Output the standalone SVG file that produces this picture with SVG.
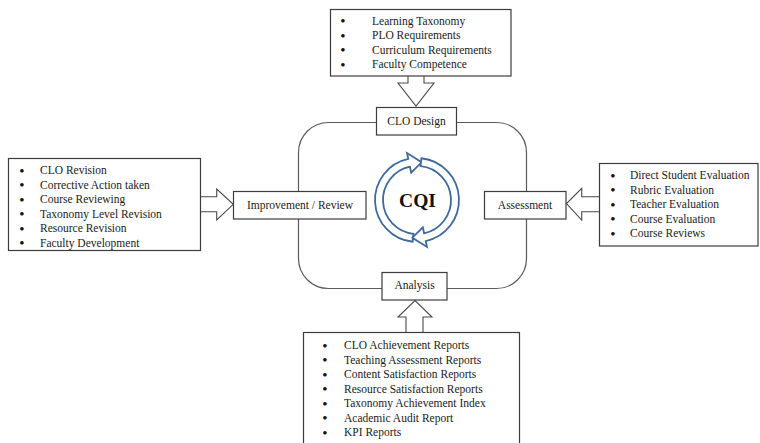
<svg xmlns="http://www.w3.org/2000/svg" width="760" height="443" viewBox="0 0 760 443">
<style>
  .box{fill:#fff;stroke:#3c3c3c;stroke-width:1.2}
  .arr{fill:#fff;stroke:#4a4a4a;stroke-width:1.1;stroke-linejoin:miter}
  .loop{fill:none;stroke:#5a5a5a;stroke-width:1.2}
  .t{font-family:"Liberation Serif","Times New Roman",serif;font-size:11.5px;fill:#1a1a1a}
  .c{text-anchor:middle}
  .b{font-family:"Liberation Serif","Times New Roman",serif;font-size:15px;fill:#111;text-anchor:middle}
  .cqi{fill:#fff;stroke:#3e6a9a;stroke-width:1.8;stroke-linejoin:miter}
  .cqit{font-family:"Liberation Serif","Times New Roman",serif;font-size:19.5px;font-weight:bold;fill:#111;text-anchor:middle}
</style>
<rect width="760" height="443" fill="#fff"/>

<g id="connectors">
  <rect class="loop" x="298.5" y="122.5" width="228" height="166" rx="30" ry="30"/>
  <path class="arr" d="M408,76 L408,83 L398,83 L416,106 L434,83 L424,83 L424,76"/>
  <path class="arr" d="M200.5,196.7 L216.7,196.7 L216.7,189 L233.3,204.3 L216.7,220 L216.7,211.7 L200.5,211.7"/>
  <path class="arr" d="M599.3,196.7 L581.7,196.7 L581.7,188.3 L566.5,203.5 L581.7,220 L581.7,211.7 L599.3,211.7"/>
  <path class="arr" d="M406,332 L406,317 L398,317 L415,300.5 L432,317 L423,317 L423,332"/>
</g>

<g id="cqi">
  <path class="cqi" d="M412.61,241.77 A42,42 0 0 1 408.27,158.92 L407.02,153.05 L421.63,162.28 L411.18,172.61 L409.93,166.74 A34,34 0 0 0 413.45,233.81 Z"/>
  <path class="cqi" d="M421.39,158.23 A42,42 0 0 1 425.73,241.08 L426.98,246.95 L412.37,237.72 L422.82,227.39 L424.07,233.26 A34,34 0 0 0 420.55,166.19 Z"/>
  <text class="cqit" x="417.5" y="207">CQI</text>
</g>

<g id="clo-design">
  <rect class="box" x="376.5" y="107.5" width="80" height="27.5"/>
  <text class="t c" x="416.5" y="124.5">CLO Design</text>
</g>

<g id="improvement">
  <rect class="box" x="233.5" y="191.5" width="132.5" height="27.5"/>
  <text class="t c" x="300" y="208.5">Improvement / Review</text>
</g>

<g id="assessment">
  <rect class="box" x="484.5" y="191.5" width="81.5" height="27.5"/>
  <text class="t c" x="525" y="208.5">Assessment</text>
</g>

<g id="analysis">
  <rect class="box" x="382" y="272.5" width="65" height="27.5"/>
  <text class="t c" x="414.5" y="289">Analysis</text>
</g>

<g id="inputs-top">
  <rect class="box" x="330.5" y="9.5" width="180.5" height="66.5"/>
  <text class="b" x="343" y="26">•</text><text class="t" x="372" y="24.5">Learning Taxonomy</text>
  <text class="b" x="343" y="40.5">•</text><text class="t" x="372" y="39">PLO Requirements</text>
  <text class="b" x="343" y="55">•</text><text class="t" x="372" y="53.5">Curriculum Requirements</text>
  <text class="b" x="343" y="69.5">•</text><text class="t" x="372" y="68">Faculty Competence</text>
</g>

<g id="inputs-left">
  <rect class="box" x="8.5" y="158.5" width="192" height="92"/>
  <text class="b" x="22" y="175.5">•</text><text class="t" x="40" y="174">CLO Revision</text>
  <text class="b" x="22" y="190">•</text><text class="t" x="40" y="188.5">Corrective Action taken</text>
  <text class="b" x="22" y="204.5">•</text><text class="t" x="40" y="203">Course Reviewing</text>
  <text class="b" x="22" y="219">•</text><text class="t" x="40" y="217.5">Taxonomy Level Revision</text>
  <text class="b" x="22" y="233.5">•</text><text class="t" x="40" y="232">Resource Revision</text>
  <text class="b" x="22" y="248">•</text><text class="t" x="40" y="246.5">Faculty Development</text>
</g>

<g id="inputs-right">
  <rect class="box" x="599.5" y="163.5" width="158.5" height="82.5"/>
  <text class="b" x="613" y="180.5">•</text><text class="t" x="630" y="179">Direct Student Evaluation</text>
  <text class="b" x="613" y="195">•</text><text class="t" x="630" y="193.5">Rubric Evaluation</text>
  <text class="b" x="613" y="209.5">•</text><text class="t" x="630" y="208">Teacher Evaluation</text>
  <text class="b" x="613" y="224">•</text><text class="t" x="630" y="222.5">Course Evaluation</text>
  <text class="b" x="613" y="238.5">•</text><text class="t" x="630" y="237">Course Reviews</text>
</g>

<g id="inputs-bottom">
  <rect class="box" x="303.5" y="332.5" width="216" height="120"/>
  <text class="b" x="325" y="350.5">•</text><text class="t" x="344" y="349">CLO Achievement Reports</text>
  <text class="b" x="325" y="365">•</text><text class="t" x="344" y="363.5">Teaching Assessment Reports</text>
  <text class="b" x="325" y="379.5">•</text><text class="t" x="344" y="378">Content Satisfaction Reports</text>
  <text class="b" x="325" y="394">•</text><text class="t" x="344" y="392.5">Resource Satisfaction Reports</text>
  <text class="b" x="325" y="408.5">•</text><text class="t" x="344" y="407">Taxonomy Achievement Index</text>
  <text class="b" x="325" y="423">•</text><text class="t" x="344" y="421.5">Academic Audit Report</text>
  <text class="b" x="325" y="437.5">•</text><text class="t" x="344" y="436">KPI Reports</text>
</g>
</svg>
